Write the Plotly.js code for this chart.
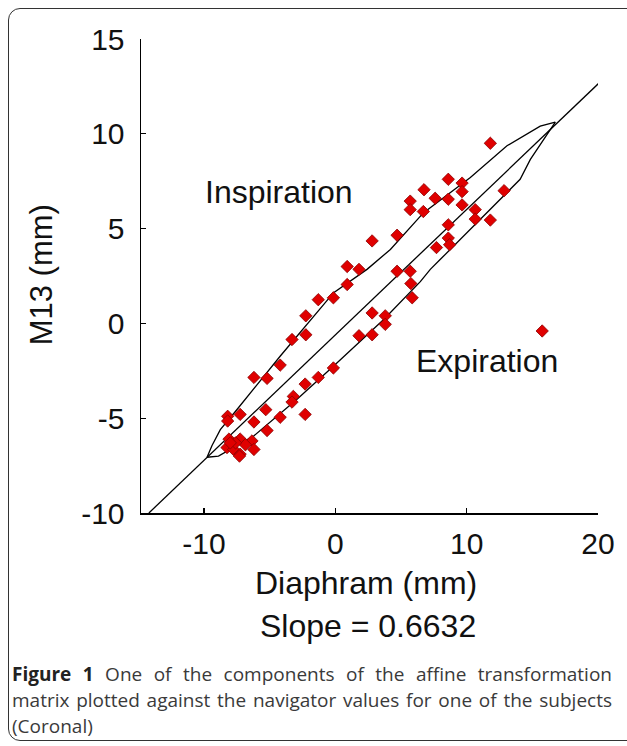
<!DOCTYPE html>
<html>
<head>
<meta charset="utf-8">
<script src="https://cdn.plot.ly/plotly-3.0.1.min.js"></script>
<style>
  html, body { margin:0; padding:0; background:#fff; width:627px; height:746px; overflow:hidden; }
  #frame { position:absolute; left:8px; top:8px; width:640px; height:733px; border:1.6px solid #333; border-radius:12px; box-sizing:border-box; }
  #chart { position:absolute; left:0; top:0; width:627px; height:746px; }
  #caption { position:absolute; left:12px; top:661px; width:600px; font-family:"Open Sans", sans-serif; font-size:19px; line-height:26px; color:#3a3a3a; }
  #caption div { white-space:nowrap; }
  #caption .j { text-align:justify; text-align-last:justify; }
  #caption b { color:#222; }
</style>
</head>
<body>
<div id="frame"></div>
<div id="chart"></div>
<div id="caption">
  <div class="j"><b>Figure 1</b> One of the components of the affine transformation</div>
  <div class="j">matrix plotted against the navigator values for one of the subjects</div>
  <div>(Coronal)</div>
</div>
<script>
// Scatter data (Diaphram mm, M13 mm)
const diaphramX = [11.8, 8.6, 9.65, 6.75, 9.65, 7.6, 8.6, 5.7, 9.65, 5.7, 6.7, 10.65, 10.65, 11.8, 12.85,
  8.6, 8.6, 8.7, 7.7, 4.7, 2.8, 0.9, 1.8, 0.9, -0.15, -1.3, -2.25, -2.25, -3.3, -4.2, -5.2, -6.2,
  4.7, 5.7, 5.75, 5.85, 2.8, 3.8, 1.8, 2.8, 3.8, -0.15, -1.3, -2.3, -3.2, -3.3, -2.3, -4.2, -5.3,
  -5.2, -6.2, -7.25, -8.2, -8.2, -8.1, -7.25, -8.25, -7.75, -7.25, -6.35, -6.2, -6.85, -7.6, -8.0, -7.3, 15.75];
const m13Y = [9.5, 7.6, 7.4, 7.05, 6.95, 6.6, 6.55, 6.45, 6.25, 6.0, 5.9, 6.0, 5.5, 5.45, 7.0,
  5.2, 4.5, 4.15, 4.0, 4.65, 4.35, 3.0, 2.85, 2.05, 1.35, 1.25, 0.4, -0.6, -0.85, -2.2, -2.9, -2.85,
  2.75, 2.75, 2.1, 1.35, 0.55, 0.4, -0.65, -0.6, -0.05, -2.35, -2.85, -3.2, -3.85, -4.15, -4.8, -4.95, -4.55,
  -5.65, -5.2, -4.8, -4.9, -5.15, -6.1, -6.1, -6.55, -6.65, -6.9, -6.2, -6.65, -6.4, -6.3, -6.3, -7.0, -0.4];

// Fitted line (slope 0.6632)
const fitX = [-14.2, 20.2];
const fitY = [-10.0, 12.76];

// Inspiration branch of the loop
const inspX = [-9.77, -9.4, -8.76, -7.49, -4.19, -0.13, 2.41, 4.19, 6.72, 10.28, 13.07, 15.6, 16.75];
const inspY = [-7.06, -6.45, -5.6, -4.54, -1.72, 1.62, 2.85, 3.9, 5.84, 7.7, 9.37, 10.4, 10.62];

// Expiration branch of the loop
const expX = [-9.77, -8.9, -6.22, -2.92, -0.13, 3.68, 6.47, 7.23, 8.0, 11.8, 14.07, 14.85, 16.37, 16.75];
const expY = [-7.06, -7.0, -5.94, -4.0, -2.25, 0.21, 2.2, 2.85, 3.38, 6.01, 7.6, 8.65, 10.23, 10.62];

const xTicks = [-10, 0, 10, 20];
const xTickText = ['-10', '0', '10', '20'];
const yTicks = [-10, -5, 0, 5, 10, 15];
const yTickText = ['-10', '-5', '0', '5', '10', '15'];

const lineStyle = {color:'#000', width:1.3};
const traces = [
  {x: fitX, y: fitY, mode:'lines', line: lineStyle, hoverinfo:'skip'},
  {x: inspX, y: inspY, mode:'lines', line: lineStyle, hoverinfo:'skip'},
  {x: expX, y: expY, mode:'lines', line: lineStyle, hoverinfo:'skip'},
  {x: diaphramX, y: m13Y, mode:'markers', marker:{symbol:'diamond', size:9.5, color:'#e00000', line:{color:'#8a0000', width:0.8}}}
];

const F = '"Liberation Sans", Arial, sans-serif';
const C = '#111';
const layout = {
  width:627, height:746,
  margin:{l:140.7, r:29, t:39, b:233},
  paper_bgcolor:'rgba(0,0,0,0)', plot_bgcolor:'rgba(0,0,0,0)',
  showlegend:false,
  xaxis:{range:[-14.8, 20], tickvals:xTicks, ticktext:xTickText, ticks:'inside', ticklen:5, tickwidth:1.3, tickcolor:'#000',
    showline:true, linecolor:'#000', linewidth:1.5, showgrid:false, zeroline:false,
    tickfont:{family:F, size:30, color:C}, ticklabelstandoff:3},
  yaxis:{range:[-10, 15], tickvals:yTicks, ticktext:yTickText, ticks:'inside', ticklen:5, tickwidth:1.3, tickcolor:'#000',
    showline:true, linecolor:'#000', linewidth:1.5, showgrid:false, zeroline:false,
    tickfont:{family:F, size:30, color:C}, ticklabelstandoff:9},
  annotations:[
    {text:'Inspiration', xref:'paper', yref:'paper', x:(279-140.7)/457.3, y:(513-192)/474, xanchor:'center', yanchor:'middle', showarrow:false, font:{family:F, size:32, color:C}},
    {text:'Expiration', xref:'paper', yref:'paper', x:(487-140.7)/457.3, y:(513-361)/474, xanchor:'center', yanchor:'middle', showarrow:false, font:{family:F, size:32, color:C}},
    {text:'M13 (mm)', xref:'paper', yref:'paper', x:(41-140.7)/457.3, y:(513-275)/474, xanchor:'center', yanchor:'middle', textangle:-90, showarrow:false, font:{family:F, size:31, color:C}},
    {text:'Diaphram (mm)', xref:'paper', yref:'paper', x:(366-140.7)/457.3, y:(513-583)/474, xanchor:'center', yanchor:'middle', showarrow:false, font:{family:F, size:32, color:C}},
    {text:'Slope = 0.6632', xref:'paper', yref:'paper', x:(368-140.7)/457.3, y:(513-626)/474, xanchor:'center', yanchor:'middle', showarrow:false, font:{family:F, size:32, color:C}}
  ]
};
Plotly.newPlot('chart', traces, layout, {displayModeBar:false, staticPlot:true});
</script>
</body>
</html>
